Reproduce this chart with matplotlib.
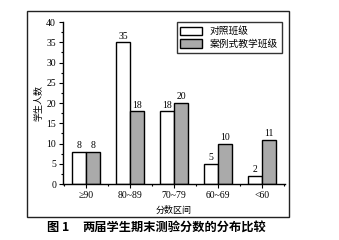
import matplotlib
matplotlib.use("Agg")
import matplotlib.pyplot as plt
import numpy as np
from matplotlib.patches import Rectangle
from matplotlib.ticker import MultipleLocator

categories = ["≥90", "80~89", "70~79", "60~69", "<60"]
control = [8, 35, 18, 5, 2]
case = [8, 18, 20, 10, 11]
series_names = ["对照班级", "案例式教学班级"]

serif = ["Liberation Serif", "DejaVu Serif"]
cjk = ["Noto Sans CJK SC", "DejaVu Sans"]

fig = plt.figure(figsize=(3.39, 2.40), dpi=100)
fig.patch.set_facecolor("white")

# outer frame
fig.patches.append(Rectangle((0.080, 0.096), 0.772, 0.858, transform=fig.transFigure,
                             fill=False, edgecolor="#222222", linewidth=1.0))

ax = fig.add_axes([0.186, 0.233, 0.655, 0.675])
x = np.arange(len(categories))
w = 0.32
b1 = ax.bar(x - w / 2, control, w, color="white", edgecolor="black", linewidth=1.0, label=series_names[0])
b2 = ax.bar(x + w / 2, case, w, color="#aaaaaa", edgecolor="black", linewidth=1.0, label=series_names[1])

for bars, vals in ((b1, control), (b2, case)):
    for r, v in zip(bars, vals):
        ax.text(r.get_x() + r.get_width() / 2, v + 0.4, str(v), ha="center", va="bottom",
                fontsize=7, family=serif)

ax.set_xlim(-0.52, 4.52)
ax.set_ylim(0, 40)
ax.spines["top"].set_visible(False)
ax.spines["right"].set_visible(False)
ax.spines["left"].set_linewidth(1.0)
ax.spines["bottom"].set_linewidth(1.0)
ax.set_xticks(x)
ax.set_xticklabels(categories, family=serif, fontsize=7)
ax.xaxis.set_minor_locator(MultipleLocator(1.0, offset=0.5))
ax.yaxis.set_major_locator(MultipleLocator(5))
ax.yaxis.set_minor_locator(MultipleLocator(2.5))
for lab in ax.get_yticklabels():
    lab.set_family(serif)
    lab.set_fontsize(7)
ax.tick_params(axis="both", which="major", direction="out", length=3, width=0.8, pad=2)
ax.tick_params(axis="both", which="minor", direction="out", length=1.5, width=0.8)

ax.set_ylabel("学生人数", family=cjk, fontsize=6.5, labelpad=2)
ax.set_xlabel("分数区间", family=cjk, fontsize=6.5, labelpad=4)

leg = ax.legend(loc="upper right", bbox_to_anchor=(0.985, 1.0), prop={"family": cjk, "size": 7},
                frameon=True, fancybox=False, edgecolor="black", borderpad=0.4,
                handlelength=2.2, handleheight=0.9, labelspacing=0.3, borderaxespad=0.0)
leg.get_frame().set_linewidth(1.0)

fig.text(0.138, 0.05, "图 1", family=cjk, fontsize=8.8, fontweight="bold", ha="left", va="center")
fig.text(0.242, 0.05, "两届学生期末测验分数的分布比较", family=cjk, fontsize=8.8,
         fontweight="bold", ha="left", va="center")

fig.savefig("out.png", dpi=100, facecolor="white")
